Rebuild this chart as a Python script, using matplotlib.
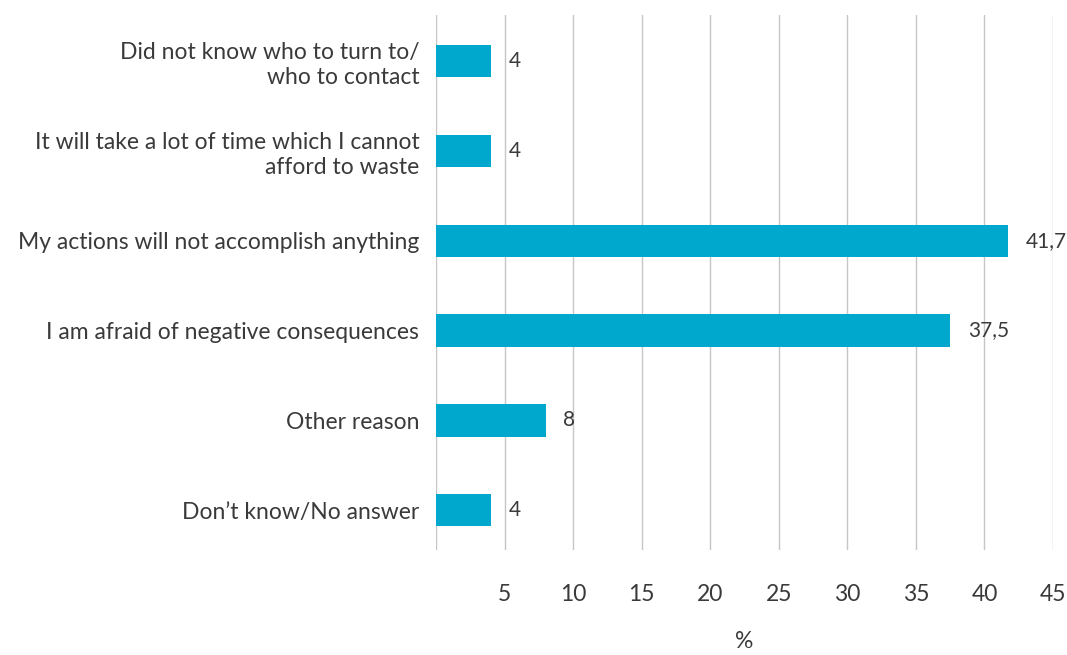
import matplotlib.pyplot as plt

plt.rcParams['font.family'] = ['Lato', 'DejaVu Sans']

categories = [
    "Did not know who to turn to/\nwho to contact",
    "It will take a lot of time which I cannot\nafford to waste",
    "My actions will not accomplish anything",
    "I am afraid of negative consequences",
    "Other reason",
    "Don\u2019t know/No answer",
]
values = [4, 4, 41.7, 37.5, 8, 4]
value_labels = ["4", "4", "41,7", "37,5", "8", "4"]
xticks = [5, 10, 15, 20, 25, 30, 35, 40, 45]

text_color = "#3a3a3a"
bar_color = "#00A8CE"
fs = 16.5

fig = plt.figure(figsize=(10.67, 6.55), dpi=100)
ax = fig.add_axes([0.4086, 0.160, 0.5783, 0.817])

ypos = list(range(len(categories)))
ax.barh(ypos, values, height=0.36, color=bar_color, zorder=3)

for y, v, lab in zip(ypos, values, value_labels):
    ax.text(v + 1.3, y, lab, va="center", ha="left", fontsize=15,
            color=text_color, zorder=4)

ax.set_xlim(0, 45)
ax.set_ylim(5.445, -0.512)
ax.set_yticks(ypos)
ax.set_yticklabels(categories, fontsize=fs, color=text_color, linespacing=1.25)
ax.set_xticks(xticks)
ax.set_xticklabels([str(t) for t in xticks], fontsize=fs, color=text_color)
ax.tick_params(axis="y", length=0, pad=12)
ax.tick_params(axis="x", length=0, pad=24)

for x in [0] + xticks:
    ax.axvline(x, color="#c6c6c6", linewidth=1, zorder=1)

for s in ax.spines.values():
    s.set_visible(False)

ax.set_xlabel("%", fontsize=fs, color=text_color, labelpad=19)

fig.savefig("out.png", dpi=100)
